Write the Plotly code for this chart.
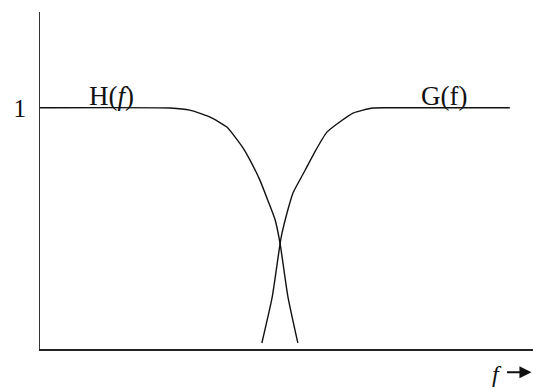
import plotly.graph_objects as go

# H(f): low-pass response
h_f = [0.0, 2.64, 3.04, 3.45, 3.79, 4.12, 4.26, 4.46, 4.62, 4.77, 4.87, 5.03, 5.23]
h_y = [1.0, 0.999, 0.990, 0.961, 0.920, 0.833, 0.783, 0.700, 0.617, 0.535, 0.437, 0.215, 0.025]
# G(f): high-pass response
g_f = [4.50, 4.71, 4.87, 4.91, 5.01, 5.13, 5.38, 5.54, 5.82, 6.35, 6.75, 7.10, 9.53]
g_y = [0.025, 0.215, 0.437, 0.481, 0.564, 0.646, 0.742, 0.804, 0.899, 0.978, 0.999, 1.0, 1.0]

y_ticks = [1]
y_ticktext = ["1"]
labels = [("H(<i>f</i>)", 1.45, 1.0), ("G(f)", 8.2, 1.0)]

serif = "Liberation Serif, Times New Roman, serif"
line_col = "#111111"

fig = go.Figure()
for xs, ys in ((h_f, h_y), (g_f, g_y)):
    fig.add_trace(go.Scatter(x=xs, y=ys, mode="lines",
                             line=dict(color=line_col, width=1.4, shape="spline", smoothing=0.5),
                             hoverinfo="skip"))

for txt, xf, yv in labels:
    fig.add_annotation(x=xf, y=yv, text=txt, showarrow=False, xref="x", yref="y",
                       yanchor="bottom", yshift=-5,
                       font=dict(family=serif, size=27, color="#111111"))

# axis name "f" with an arrow
fig.add_annotation(x=0.926, y=-0.074, xref="paper", yref="paper", xanchor="center", yanchor="middle",
                   text="<i>f</i>", showarrow=False,
                   font=dict(family=serif, size=24, color="#111111"))
fig.add_annotation(x=0.997, y=-0.069, xref="paper", yref="paper", text="",
                   showarrow=True, ax=-26, ay=0, arrowhead=2, arrowsize=1.1,
                   arrowwidth=2.2, arrowcolor="#111111")

fig.update_layout(
    width=533, height=387,
    margin=dict(l=40, r=0, t=12, b=38, autoexpand=False),
    paper_bgcolor="white", plot_bgcolor="white",
    showlegend=False,
    xaxis=dict(range=[0, 10], showline=True, linecolor="#222222", linewidth=1.5,
               showgrid=False, zeroline=False, showticklabels=False, ticks="",
               automargin=False),
    yaxis=dict(range=[0, 1.397], showline=True, linecolor="#333333", linewidth=1.2,
               showgrid=False, zeroline=False, tickvals=y_ticks, ticktext=y_ticktext,
               ticks="", ticklabelstandoff=8, automargin=False,
               tickfont=dict(family=serif, size=25, color="#111111")),
)

fig.write_html("out.html", config={"displayModeBar": False},
               post_script="document.body.style.margin='0';document.body.style.overflow='hidden';")
